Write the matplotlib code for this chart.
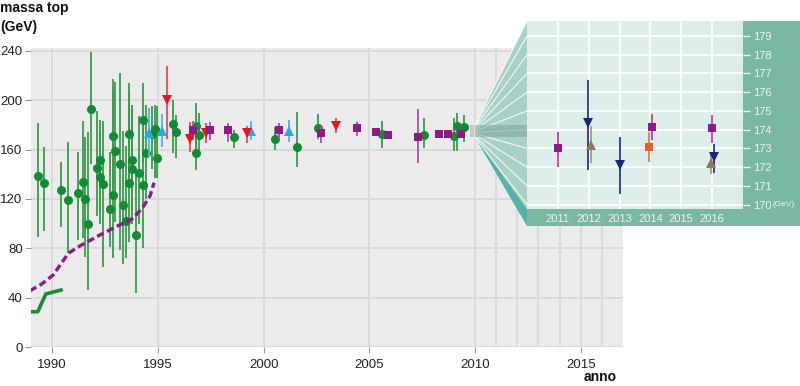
import matplotlib
matplotlib.use('Agg')
import matplotlib.pyplot as plt
from matplotlib.patches import Polygon, Rectangle
from matplotlib.lines import Line2D
import numpy as np

plt.rcParams['font.family'] = ['Liberation Sans', 'DejaVu Sans']

# ---------------- data (main chart) ----------------
# green circles: indirect estimates
green_x = [1989.32, 1989.62, 1990.42, 1990.77, 1991.21, 1991.44, 1991.57, 1991.70, 1991.85,
           1992.12, 1992.26, 1992.26, 1992.42, 1992.74, 1992.86, 1992.90, 1992.97, 1993.20,
           1993.35, 1993.49, 1993.63, 1993.65, 1993.76, 1993.79, 1993.95, 1994.12, 1994.28,
           1994.28, 1994.42, 1994.70, 1994.87, 1994.95,
           1995.70, 1995.84, 1996.80, 1996.80, 1996.96, 1998.62, 2000.54, 2001.57, 2002.56,
           2005.60, 2007.59, 2009.00, 2009.17, 2009.47]
green_y = [139, 133, 127, 119, 125, 134, 120, 100, 193,
           145, 152, 138, 132, 112, 123, 171, 159, 148,
           115, 102, 133, 173, 144, 152, 91, 141, 131,
           184, 157, 173, 177, 153,
           181, 174.6, 179.5, 157, 172, 170, 168.4, 162, 177.5,
           172.7, 172.2, 171, 179.5, 178]
green_lo = [89, 94, 97, 76, 87, 88, 73, 46, 148,
            106, 109, 100, 65, 81, 72, 130, 101, 79,
            67, 72, 85, 135, 100, 110, 44, 100, 80,
            150, 120, 144, 137, 137,
            157, 153, 158.4, 143.6, 160, 161, 159.8, 146, 168.4,
            161, 161, 159, 159, 166.5]
green_hi = [182, 162, 150, 166, 158, 183, 170, 174, 239,
            191, 184, 175, 183, 158, 208, 217, 215, 222,
            175, 163, 207, 214, 193, 196, 140, 187, 180,
            214, 196, 195, 196, 195,
            200, 188, 197.6, 179.5, 189.5, 176, 178.7, 190.7, 189,
            183.5, 185.4, 185.4, 189.5, 188]

# cyan up triangles
cyan_x = [1994.57, 1995.20, 1999.39, 2001.20]
cyan_y = [173.8, 174.8, 175.2, 175.2]
cyan_lo = [154, 162.4, 168, 166.5]
cyan_hi = [194, 188.5, 183.3, 184]

# red down triangles
red_x = [1995.45, 1996.50, 1997.28, 1999.23, 2003.41]
red_y = [200, 169, 173.8, 173.2, 179.5]
red_lo = [169, 158.4, 165, 165.7, 173.2]
red_hi = [228, 182.7, 182, 179.2, 185.4]

# purple squares
purple_x = [1996.65, 1997.47, 1998.33, 2000.75, 2002.72, 2004.44, 2005.30, 2005.87,
            2007.29, 2008.30, 2008.73, 2009.33]
purple_y = [175.6, 175.6, 175.6, 175.6, 173.8, 177.2, 174.6, 172.2,
            170.6, 172.4, 172.4, 172.7]
purple_lo = [168, 168, 166.5, 168, 165.7, 171, 172.5, 170.5,
             149, 171, 171, 171.5]
purple_hi = [183.3, 182.7, 182, 182, 179.5, 182.7, 176.5, 174,
             193, 174, 174, 174]

# lower limit curve (dashed) and early limits (solid)
limit_x = [1988.95, 1989.5, 1990.05, 1990.4, 1990.77, 1991.32, 1992.26, 1993.2, 1993.84,
           1994.31, 1994.63, 1994.82]
limit_y = [45.6, 51, 58.4, 67, 76, 82, 90.8, 99, 104.4, 113.8, 122.5, 133.2]
early_x = [1988.95, 1989.32, 1989.7, 1990.42]
early_y = [28.6, 28.6, 43, 46.2]

main_yticks = [0, 40, 80, 120, 160, 200, 240]
main_xticks = [1990, 1995, 2000, 2005, 2010, 2015]
main_xminor = [2011, 2012, 2013, 2014, 2016]

# ---------------- data (inset) ----------------
in_purple_x = [2011.0, 2014.05, 2016.0]
in_purple_y = [173.04, 174.13, 174.1]
in_purple_lo = [172.03, 173.45, 173.3]
in_purple_hi = [173.9, 174.82, 174.77]

in_orange_x = [2013.95]
in_orange_y = [173.08]
in_orange_lo = [172.26]
in_orange_hi = [173.86]

in_navy_x = [2011.98, 2013.0, 2016.07]
in_navy_y = [174.34, 172.1, 172.53]
in_navy_lo = [171.85, 170.55, 171.67]
in_navy_hi = [176.65, 173.6, 173.24]

in_taupe_x = [2012.07, 2015.95]
in_taupe_y = [173.2, 172.2]
in_taupe_lo = [172.2, 171.65]
in_taupe_hi = [174.2, 172.74]

in_yticks = list(range(170, 180))
in_xticks = [2011, 2012, 2013, 2014, 2015, 2016]

# ---------------- figure ----------------
W, H = 800, 386
fig = plt.figure(figsize=(8, 3.86), dpi=100)


def fx(px):
    return px / W


def fy(py):
    return 1 - py / H


ax = fig.add_axes([fx(31), fy(347), (623 - 31) / W, (347 - 48) / H])
ax.set_facecolor('#ebebeb')
ax.set_xlim(1989, 2017)
ax.set_ylim(0, 242.4)
for s in ax.spines.values():
    s.set_visible(False)
ax.set_yticks(main_yticks)
ax.set_xticks(main_xticks)
ax.set_xticks(main_xminor, minor=True)
ax.grid(True, which='both', color='#d9d9d9', lw=1.3)
ax.set_axisbelow(True)
ax.tick_params(axis='both', which='major', labelsize=9.5, labelcolor='#222222',
               color='#999999', length=4, width=0.8)
ax.tick_params(axis='x', which='major', pad=5)
ax.tick_params(axis='y', which='major', pad=2)
ax.tick_params(axis='x', which='minor', length=0)


def draw_err(a, x, y, lo, hi, marker, mc, ec, ms, z, lw=1.3):
    a.vlines(x, lo, hi, color=ec, lw=lw, zorder=z)
    a.plot(x, y, linestyle='none', marker=marker, color=mc, ms=ms, zorder=z + 0.5,
           markeredgewidth=0)


draw_err(ax, green_x, green_y, green_lo, green_hi, 'o', '#138a36', '#3a9c4c', 6.5, 3)
draw_err(ax, cyan_x, cyan_y, cyan_lo, cyan_hi, '^', '#2aa6e2', '#4cb4e8', 7, 4)
draw_err(ax, red_x, red_y, red_lo, red_hi, 'v', '#e8141e', '#ec4a50', 7, 4)
draw_err(ax, purple_x, purple_y, purple_lo, purple_hi, 's', '#8e1a86', '#ad4fa3', 6, 4)

ax.plot(limit_x, limit_y, color='#8e1a86', lw=2.4, dashes=(2.2, 1.1), zorder=5,
        solid_capstyle='butt')
ax.plot(early_x, early_y, color='#1a8a3a', lw=2.6, zorder=5)

# zoom box on the main chart
ax.add_patch(Rectangle((2009.75, 170), 0.25, 10, facecolor='#c8c8c8', edgecolor='none',
                       zorder=6))

fig.text(fx(0), fy(1), 'massa top\n(GeV)', fontsize=10, fontweight='bold',
         va='top', ha='left', linespacing=1.45, color='#111111')
fig.text(fx(600), fy(377), 'anno', fontsize=10, fontweight='bold', va='center',
         ha='center', color='#111111')

# ---------------- inset ----------------
axin = fig.add_axes([fx(527), fy(209), (743 - 527) / W, (209 - 21) / H], zorder=3)
axin.set_facecolor('#dcedea')
axin.set_xlim(2010, 2017)
axin.set_ylim(169.77, 179.8)
for s in axin.spines.values():
    s.set_visible(False)
axin.set_yticks(in_yticks)
axin.set_xticks(in_xticks)
axin.grid(True, color='white', lw=1.2)
axin.set_axisbelow(True)
axin.yaxis.tick_right()
axin.tick_params(axis='y', colors='#eef6f3', length=5, width=1, pad=2, labelsize=8)
axin.tick_params(axis='x', colors='#eef6f3', length=0, pad=3.5, labelsize=8)

draw_err(axin, in_purple_x, in_purple_y, in_purple_lo, in_purple_hi, 's', '#8e1a86',
         '#cc3a9e', 6, 4)
draw_err(axin, in_orange_x, in_orange_y, in_orange_lo, in_orange_hi, 's', '#f2592a',
         '#f2773f', 6, 4)
draw_err(axin, in_navy_x, in_navy_y, in_navy_lo, in_navy_hi, 'v', '#1b2381',
         '#2a3594', 6.5, 4)
draw_err(axin, in_taupe_x, in_taupe_y, in_taupe_lo, in_taupe_hi, '^', '#8c7b5e',
         '#a8987a', 6.5, 4)

fig.text(fx(784), fy(205), '(GeV)', fontsize=6, color='#eef6f3', ha='center',
         va='center', zorder=4)

# teal frame behind the inset
fig.add_artist(Rectangle((fx(527), fy(226)), 1 - fx(527), (226 - 21) / H,
                         transform=fig.transFigure, facecolor='#7bb8a2',
                         edgecolor='none', zorder=2))

# ---------------- fan connecting main chart and inset ----------------
inv = fig.transFigure.inverted()


def to_fig(a, x, y):
    return inv.transform(a.transData.transform((x, y)))


def ax_fig(a, x, y):
    return inv.transform(a.transAxes.transform((x, y)))


a_top = to_fig(ax, 2010, 180)
a_bot = to_fig(ax, 2010, 170)
i_top = ax_fig(axin, 0, 1)
i_bot = ax_fig(axin, 0, 0)
s_bot = np.array([fx(527), fy(226)])

fig.add_artist(Polygon([a_top, i_top, i_bot, a_bot], closed=True,
                       transform=fig.transFigure, facecolor='#a9d0c6',
                       edgecolor='none', zorder=1))
fig.add_artist(Polygon([a_bot, i_bot, s_bot], closed=True, transform=fig.transFigure,
                       facecolor='#52b3a6', edgecolor='none', zorder=1.1))
for v in in_yticks + [180]:
    p0 = to_fig(ax, 2010, v)
    p1 = to_fig(axin, 2010, min(v, 179.8))
    fig.add_artist(Line2D([p0[0], p1[0]], [p0[1], p1[1]], transform=fig.transFigure,
                          color='white', lw=0.8, alpha=0.85, zorder=1.2))
band_l = to_fig(ax, 2010, 170)
band_h = to_fig(ax, 2010, 180)
fig.add_artist(Rectangle((band_l[0], band_l[1]), i_bot[0] - band_l[0],
                         band_h[1] - band_l[1], transform=fig.transFigure,
                         facecolor='#7fa89e', alpha=0.6, edgecolor='none', zorder=1.3))

fig.savefig('out.png', dpi=100)
